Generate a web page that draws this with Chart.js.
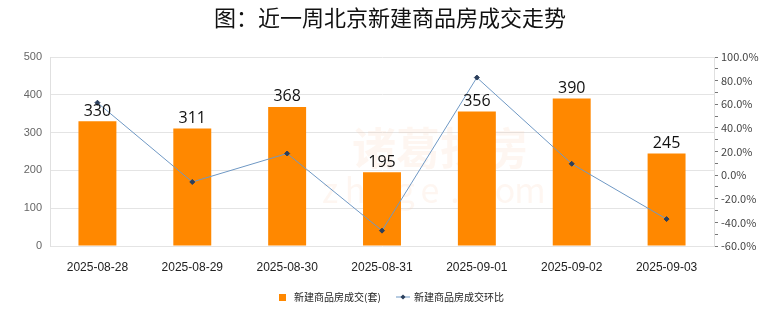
<!DOCTYPE html>
<html>
<head>
<meta charset="utf-8">
<script src="https://cdn.jsdelivr.net/npm/chart.js@4.4.1/dist/chart.umd.min.js"></script>
<style>
  html, body { margin: 0; padding: 0; background: #fff; }
  #wrap { position: relative; width: 780px; height: 328px; }
</style>
</head>
<body>
<div id="wrap"><canvas id="chart" width="780" height="328"></canvas></div>
<script>
// ----- Data -----
const dates = ["2025-08-28", "2025-08-29", "2025-08-30", "2025-08-31", "2025-09-01", "2025-09-02", "2025-09-03"];
const deals = [330, 311, 368, 195, 356, 390, 245];
const dealRatio = [61.3, -5.8, 18.3, -47.0, 82.6, 9.6, -37.2];
const dealLabel = "新建商品房成交(套)";
const ratioLabel = "新建商品房成交环比";
const titleText = "图：近一周北京新建商品房成交走势";

const CJK = '"Noto Sans CJK SC", "Noto Sans", sans-serif';

// title, watermark, bar labels, legend
const extras = {
  id: "extras",
  beforeDatasetsDraw(chart) {
    const c = chart.ctx;
    c.save();
    c.fillStyle = "rgba(248, 200, 165, 0.16)";
    c.font = "bold 44px " + CJK;
    c.textAlign = "center";
    c.textBaseline = "middle";
    c.fillText("诸葛找房", 440, 148);
    c.font = "34px " + CJK;
    const w = "zhuge.com".split("");
    w.forEach((ch, i) => c.fillText(ch, 330 + i * 25, 190));
    c.restore();
  },
  afterDraw(chart) {
    const c = chart.ctx;
    c.save();
    // title
    c.fillStyle = "#111";
    c.font = "22px " + CJK;
    c.textAlign = "center";
    c.textBaseline = "middle";
    c.fillText(titleText, 390, 18);

    // value labels above bars
    const meta = chart.getDatasetMeta(1);
    c.font = "16px 'Open Sans', 'DejaVu Sans', sans-serif";
    c.fillStyle = "#111";
    c.textBaseline = "bottom";
    meta.data.forEach((bar, i) => {
      c.fillText(String(deals[i]), bar.x, bar.y - 2);
    });

    // legend
    c.font = "10px " + CJK;
    c.textAlign = "left";
    c.textBaseline = "middle";
    const ly = 297;
    c.fillStyle = "#ff8800";
    c.fillRect(279, ly - 3, 7, 7);
    c.fillStyle = "#222";
    c.fillText(dealLabel, 294, ly);
    c.strokeStyle = "#6f98c4";
    c.lineWidth = 1;
    c.beginPath();
    c.moveTo(396, ly);
    c.lineTo(410, ly);
    c.stroke();
    c.fillStyle = "#2c3f5c";
    c.beginPath();
    c.moveTo(403, ly - 2.5);
    c.lineTo(405.5, ly);
    c.lineTo(403, ly + 2.5);
    c.lineTo(400.5, ly);
    c.closePath();
    c.fill();
    c.fillStyle = "#222";
    c.fillText(ratioLabel, 414, ly);
    c.restore();
  }
};

new Chart(document.getElementById("chart"), {
  data: {
    labels: dates,
    datasets: [
      {
        type: "line",
        label: ratioLabel,
        data: dealRatio,
        yAxisID: "y2",
        borderColor: "#6f98c4",
        borderWidth: 1,
        pointStyle: "rectRot",
        pointRadius: 2.5,
        pointBackgroundColor: "#2c3f5c",
        pointBorderColor: "#2c3f5c",
        tension: 0,
        order: 0
      },
      {
        type: "bar",
        label: dealLabel,
        data: deals,
        yAxisID: "y",
        backgroundColor: "#ff8800",
        barPercentage: 0.4,
        categoryPercentage: 1,
        order: 1
      }
    ]
  },
  options: {
    responsive: false,
    animation: false,
    layout: { padding: { top: 57, left: 0, right: 0, bottom: 0 } },
    plugins: {
      legend: { display: false },
      title: { display: false },
      tooltip: { enabled: false }
    },
    scales: {
      x: {
        grid: { display: false },
        border: { display: false },
        ticks: {
          color: "#222",
          padding: 6,
          maxRotation: 0,
          font: { size: 12, family: "'Liberation Sans', Arial, sans-serif" }
        },
        afterFit(s) { s.height = 82; }
      },
      y: {
        position: "left",
        min: 0,
        max: 500,
        ticks: {
          stepSize: 100,
          color: "#666",
          padding: 8,
          font: { size: 11, family: "'Liberation Sans', Arial, sans-serif" }
        },
        grid: { color: "#e4e4e4", drawTicks: false },
        border: { color: "#e0e0e0" },
        afterFit(s) { s.width = 50; }
      },
      y2: {
        position: "right",
        min: -60,
        max: 100,
        ticks: {
          stepSize: 10,
          color: "#444",
          padding: 3,
          autoSkip: false,
          font: { size: 11, family: CJK },
          callback: (v) => (Math.round(v) % 20 === 0 ? v.toFixed(1) + "%" : "")
        },
        grid: { drawOnChartArea: false, tickLength: 4, color: "#777" },
        border: { color: "#e0e0e0" },
        afterFit(s) { s.width = 66; }
      }
    }
  },
  plugins: [extras]
});
</script>
</body>
</html>
